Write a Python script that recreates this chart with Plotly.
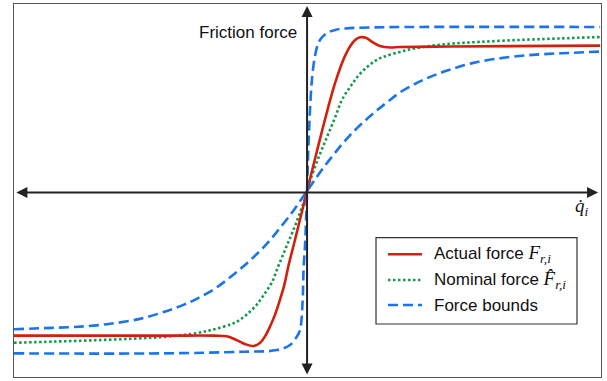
import plotly.graph_objects as go

# ---- data (normalised units) ----
actual_x = [-1.0, -0.488, -0.317, -0.274, -0.240, -0.212, -0.183, -0.160, -0.143, -0.126,
            -0.109, -0.092, -0.078, -0.064, -0.045, -0.027, 0.0,
            0.027, 0.051, 0.078, 0.096, 0.113, 0.130, 0.147, 0.164, 0.181, 0.201,
            0.222, 0.249, 0.283, 0.317, 0.488, 1.0]
actual_y = [-0.882, -0.882, -0.882, -0.886, -0.909, -0.933, -0.945, -0.925, -0.885, -0.825,
            -0.752, -0.660, -0.575, -0.460, -0.325, -0.195, 0.0,
            0.195, 0.366, 0.550, 0.660, 0.750, 0.825, 0.882, 0.920, 0.937, 0.934,
            0.909, 0.884, 0.875, 0.878, 0.881, 0.886]

nominal_x = [-1.0, -0.863, -0.727, -0.590, -0.478, -0.375, -0.317, -0.259, -0.232, -0.205,
             -0.174, -0.147, -0.119, -0.099, -0.078, -0.061, -0.044, -0.027, -0.010, 0.0,
             0.010, 0.027, 0.044, 0.061, 0.078, 0.099, 0.119, 0.147, 0.174, 0.205,
             0.232, 0.259, 0.317, 0.375, 0.478, 0.590, 0.727, 0.863, 1.0]
nominal_y = [-0.925, -0.918, -0.910, -0.900, -0.888, -0.866, -0.843, -0.812, -0.789, -0.752,
             -0.698, -0.632, -0.553, -0.462, -0.372, -0.299, -0.226, -0.146, -0.061, 0.0,
             0.061, 0.146, 0.226, 0.299, 0.372, 0.463, 0.555, 0.634, 0.701, 0.756,
             0.793, 0.817, 0.848, 0.872, 0.896, 0.909, 0.921, 0.930, 0.939]

bound_steep_x = [-1.0, -0.5, -0.218, -0.103, -0.058, -0.035, -0.024, -0.015, -0.012, -0.006,
                 -0.003, 0.0, 0.003, 0.007, 0.010, 0.015, 0.020, 0.027, 0.034, 0.044,
                 0.068, 0.096, 0.130, 0.215, 0.386, 1.0]
bound_steep_y = [-0.99, -0.99, -0.98, -0.97, -0.939, -0.888, -0.848, -0.665, -0.48, -0.30,
                 -0.15, 0.0, 0.189, 0.372, 0.494, 0.646, 0.738, 0.823, 0.878, 0.921,
                 0.963, 0.982, 0.991, 0.997, 1.0, 1.0]

bound_flat_x = [-1.0, -0.898, -0.795, -0.683, -0.567, -0.478, -0.420, -0.375, -0.317, -0.273,
                -0.236, -0.205, -0.174, -0.147, -0.119, -0.089, -0.055, -0.027, 0.0,
                0.027, 0.055, 0.089, 0.119, 0.147, 0.174, 0.205, 0.236, 0.273, 0.317,
                0.375, 0.420, 0.478, 0.567, 0.683, 0.795, 0.898, 1.0]
bound_flat_y = [-0.843, -0.836, -0.829, -0.812, -0.778, -0.731, -0.693, -0.656, -0.598, -0.541,
                -0.488, -0.440, -0.389, -0.341, -0.284, -0.218, -0.140, -0.070, 0.0,
                0.070, 0.140, 0.218, 0.284, 0.341, 0.389, 0.440, 0.488, 0.541, 0.601,
                0.659, 0.696, 0.734, 0.781, 0.815, 0.833, 0.842, 0.850]

RED = "#d2200c"
GREEN = "#12994a"
BLUE = "#1a74ec"
SERIF = "Liberation Serif, DejaVu Serif, serif"
SANS = "Liberation Sans, Arial, sans-serif"

MATH = "<span style='font-family:" + SERIF + ";font-size:19px'>"
legend_labels = [
    "Actual force " + MATH + "<i>F</i><sub><i>r,i</i></sub></span>",
    "Nominal force " + MATH + "<i>F̂</i><sub><i>r,i</i></sub></span>",
    "Force bounds",
]
legend_styles = [
    dict(color=RED, width=2.6, dash="solid"),
    dict(color=GREEN, width=2.6, dash="2.5px,2.5px"),
    dict(color=BLUE, width=2.6, dash="10px,5px"),
]

fig = go.Figure()
fig.add_trace(go.Scatter(x=bound_flat_x, y=bound_flat_y, mode="lines", line_shape="spline",
                         line=legend_styles[2], showlegend=False, hoverinfo="skip"))
fig.add_trace(go.Scatter(x=nominal_x, y=nominal_y, mode="lines", line_shape="spline",
                         line=legend_styles[1], showlegend=False, name="Nominal force"))
fig.add_trace(go.Scatter(x=actual_x, y=actual_y, mode="lines", line_shape="spline",
                         line=legend_styles[0], showlegend=False, name="Actual force"))
fig.add_trace(go.Scatter(x=bound_steep_x, y=bound_steep_y, mode="lines", line_shape="spline",
                         line=legend_styles[2], showlegend=False, name="Force bounds"))

AX = "#222222"
# horizontal axis arrow (both ends)
fig.add_annotation(x=0.993, y=-0.009, ax=-0.997, ay=-0.009, xref="x", yref="y",
                   axref="x", ayref="y", text="", showarrow=True, arrowhead=2,
                   arrowside="end+start", arrowsize=1.1, arrowwidth=2, arrowcolor=AX)
# vertical axis arrow (both ends)
fig.add_annotation(x=0.0, y=1.128, ax=0.0, ay=-1.128, xref="x", yref="y",
                   axref="x", ayref="y", text="", showarrow=True, arrowhead=2,
                   arrowside="end+start", arrowsize=1.1, arrowwidth=2, arrowcolor=AX)

fig.add_annotation(x=-0.027, y=0.965, xref="x", yref="y", text="Friction force",
                   showarrow=False, xanchor="right", yanchor="middle",
                   font=dict(family=SANS, size=17, color="#111"))
fig.add_annotation(x=0.938, y=-0.095, xref="x", yref="y",
                   text="<i>q̇</i><sub><i>i</i></sub>", showarrow=False,
                   xanchor="center", yanchor="middle",
                   font=dict(family=SERIF, size=19, color="#111"))

# legend box (paper coordinates)
fig.add_shape(type="rect", xref="paper", yref="paper", x0=0.6167, x1=0.9591,
              y0=0.1421, y1=0.3735, line=dict(color="#333", width=1.2), fillcolor="white",
              layer="above")
row_y = [0.3290, 0.2601, 0.1930]
for lab, sty, ry in zip(legend_labels, legend_styles, row_y):
    fig.add_shape(type="line", xref="paper", yref="paper", x0=0.6371, x1=0.6951,
                  y0=ry, y1=ry, line=sty, layer="above")
    fig.add_annotation(x=0.7121, y=ry, xref="paper", yref="paper", text=lab,
                       showarrow=False, xanchor="left", yanchor="middle",
                       font=dict(family=SANS, size=17, color="#111"))

fig.update_xaxes(range=[-1.0, 1.003], showgrid=False, zeroline=False, showticklabels=False,
                 ticks="", showline=True, linecolor="#555", linewidth=1, mirror=True)
fig.update_yaxes(range=[-1.134, 1.140], showgrid=False, zeroline=False, showticklabels=False,
                 ticks="", showline=True, linecolor="#555", linewidth=1, mirror=True)

fig.update_layout(
    width=607, height=381,
    margin=dict(l=14, r=6, t=4, b=4),
    paper_bgcolor="white", plot_bgcolor="white",
    font=dict(family=SANS, size=17, color="#111"),
    showlegend=False,
)

fig.write_html("out.html", config={"displayModeBar": False},
               post_script="document.body.style.margin='0';")
